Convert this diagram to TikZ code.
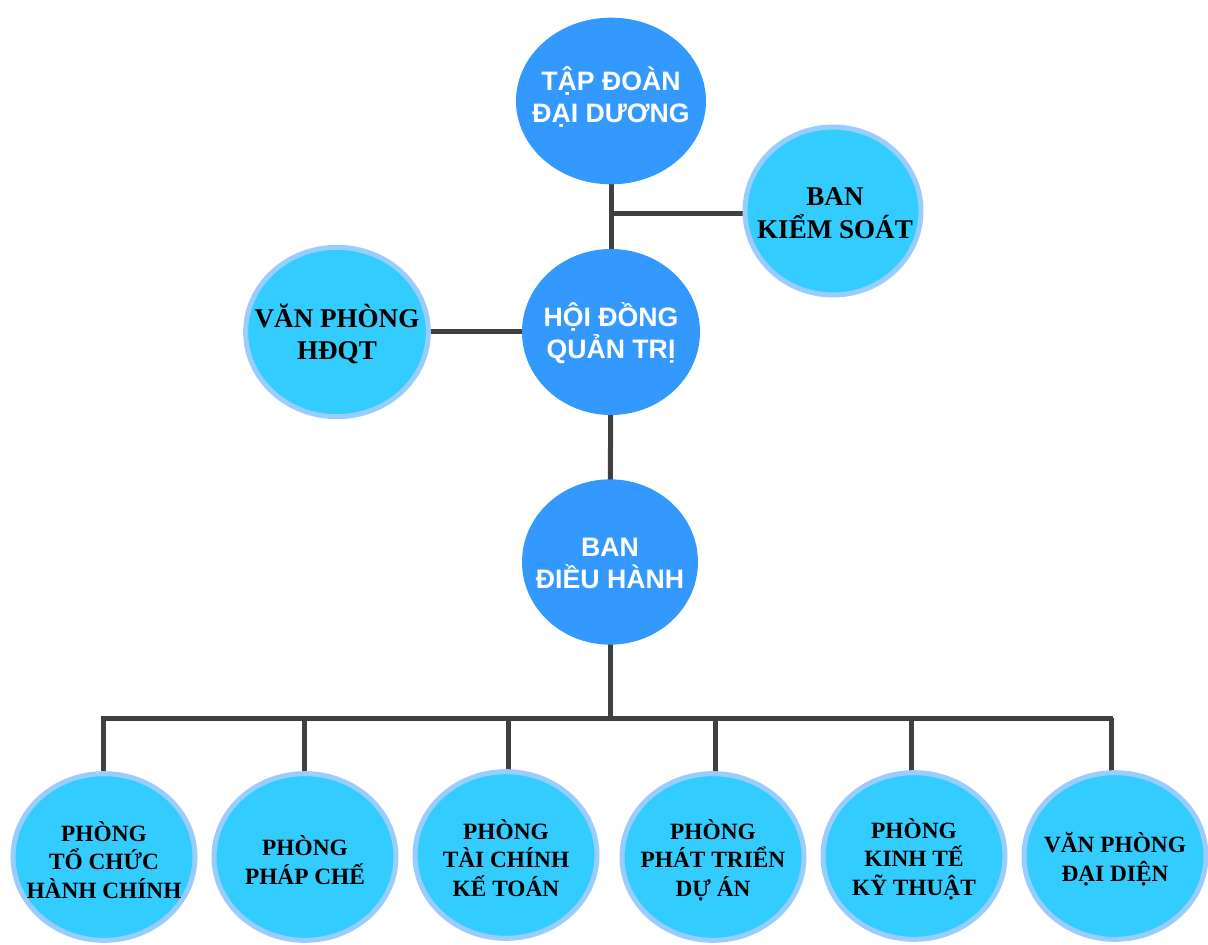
\documentclass[tikz,border=0pt]{standalone}
\usepackage{fontspec}
\setmainfont{Liberation Serif}
\newfontfamily\sansb{Liberation Sans}
\usetikzlibrary{shapes.geometric}
\pgfdeclarelayer{background}
\pgfsetlayers{background,main}
\definecolor{darkblue}{HTML}{3399FF}
\definecolor{lightblue}{HTML}{33CCFF}
\definecolor{lightborder}{HTML}{99CCFF}
\definecolor{conncol}{HTML}{404040}
\tikzset{
  dark/.style={ellipse, fill=darkblue, inner sep=0pt},
  darktxt/.style={text=white, inner sep=0pt, align=center,
    font=\sansb\bfseries\fontsize{20}{24}\selectfont},
  light/.style={ellipse, fill=lightblue, draw=lightborder, line width=3.75pt, inner sep=0pt},
  lighttxt/.style={inner sep=0pt, align=center, text=black,
    font=\bfseries\fontsize{20.3}{24.5}\selectfont},
  lower/.style={light, minimum width=136.5pt, minimum height=125pt},
  lowertxt/.style={inner sep=0pt, align=center, text=black,
    font=\bfseries\fontsize{17.5}{21.5}\selectfont},
  conn/.style={draw=conncol, line width=3.75pt}
}
\begin{document}
\begin{tikzpicture}[x=0.75pt,y=-0.75pt]
\useasboundingbox (0,0) rectangle (1208,945);
% dark circles
\node[dark, minimum width=142.5pt, minimum height=125pt] (top) at (611,101) {};
\node[darktxt] (top-t) at (611,97) {TẬP ĐOÀN\\ĐẠI DƯƠNG};
\node[dark, minimum width=133.5pt, minimum height=124.5pt] (hdqt) at (611,332) {};
\node[darktxt] (hdqt-t) at (611,333) {HỘI ĐỒNG\\QUẢN TRỊ};
\node[dark, minimum width=132pt, minimum height=124pt] (bdh) at (610,562) {};
\node[darktxt] (bdh-t) at (610,563) {BAN\\ĐIỀU HÀNH};
% light circles
\node[light, minimum width=132pt, minimum height=126pt] (bks) at (833,211) {};
\node[lighttxt] (bks-t) at (835,213) {BAN\\KIỂM SOÁT};
\node[light, minimum width=137pt, minimum height=127pt] (vp) at (337,332) {};
\node[lighttxt] (vp-t) at (337,334) {VĂN PHÒNG\\HĐQT};
% bottom row
\node[lower] (b1) at (104,857) {};
\node[lowertxt] (b1-t) at (104,860) {PHÒNG\\TỔ CHỨC\\HÀNH CHÍNH};
\node[lower] (b2) at (305,857) {};
\node[lowertxt] (b2-t) at (305,860) {PHÒNG\\PHÁP CHẾ};
\node[lower] (b3) at (506,855) {};
\node[lowertxt] (b3-t) at (506,858) {PHÒNG\\TÀI CHÍNH\\KẾ TOÁN};
\node[lower] (b4) at (713,857) {};
\node[lowertxt] (b4-t) at (713,860) {PHÒNG\\PHÁT TRIỂN\\DỰ ÁN};
\node[lower] (b5) at (914,856) {};
\node[lowertxt] (b5-t) at (914,859) {PHÒNG\\KINH TẾ\\KỸ THUẬT};
\node[lower] (b6) at (1115,856) {};
\node[lowertxt] (b6-t) at (1115,859) {VĂN PHÒNG\\ĐẠI DIỆN};
% junctions
\coordinate (j1) at (610,214);
\coordinate (bus) at (610,718);
\coordinate (busl) at (101,718);
\coordinate (busr) at (1113,718);
\coordinate (d1) at (103,718);
\coordinate (d2) at (304,718);
\coordinate (d3) at (508,718);
\coordinate (d4) at (715,718);
\coordinate (d5) at (911,718);
\coordinate (d6) at (1111,718);
\begin{pgfonlayer}{background}
\draw[conn] (top.center) -- (hdqt.center);
\draw[conn] (j1) -- (j1 -| bks.center);
\draw[conn] (vp.center) -- (hdqt.center);
\draw[conn] (hdqt.center) -- (bdh.center);
\draw[conn] (bdh.center) -- (bus);
\draw[conn] (busl) -- (busr);
\foreach \i in {1,...,6}{
  \draw[conn] (d\i) -- (d\i |- b\i.center);
}
\end{pgfonlayer}
\end{tikzpicture}
\end{document}
